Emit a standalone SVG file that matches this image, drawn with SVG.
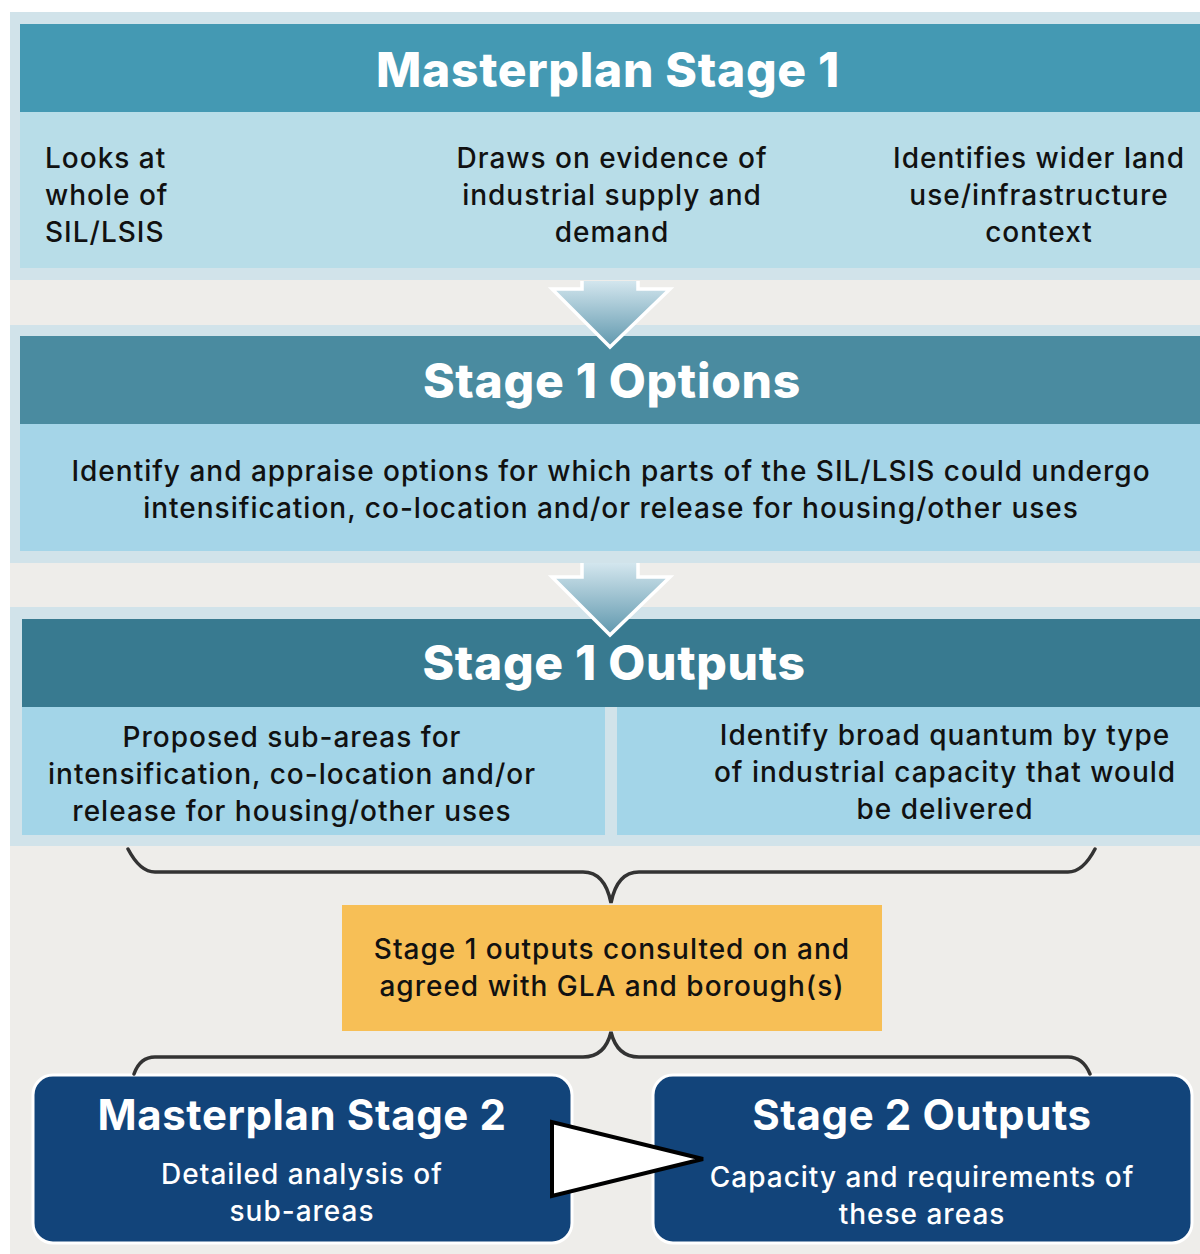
<svg xmlns="http://www.w3.org/2000/svg" width="1200" height="1254" viewBox="0 0 1200 1254">
<defs>
<linearGradient id="ag" x1="0" y1="0" x2="0" y2="1">
<stop offset="0" stop-color="#d3e6ee"/>
<stop offset="1" stop-color="#5f97ad"/>
</linearGradient>
<style>
.band{fill:#d1e3ea}
.gray{fill:#eeedea}
.h{font-family:Inter,"Liberation Sans",sans-serif;font-weight:800;fill:#fff;text-anchor:middle;letter-spacing:0.7px}
.h2{font-weight:700;letter-spacing:0.6px}
.t{font-family:Inter,"Liberation Sans",sans-serif;font-weight:500;fill:#111;font-size:28px;letter-spacing:1px}
.c{text-anchor:middle}
.w{fill:#fff}
.br{fill:none;stroke:#333;stroke-width:3.5;stroke-linecap:round}
.arr{fill:url(#ag)}
.arrs{fill:none;stroke:#fff;stroke-width:3.5;stroke-linejoin:miter}
</style>
</defs>
<rect width="1200" height="1254" fill="#fff"/>
<rect x="10" y="12" width="1190" height="1242" class="gray"/>

<g id="stage1">
<rect x="10" y="12" width="1190" height="268" class="band"/>
<rect x="20" y="24" width="1180" height="88" fill="#4499b3"/>
<rect x="20" y="112" width="1180" height="156" fill="#b8dde8"/>
<text x="608" y="87" class="h" font-size="48">Masterplan Stage 1</text>
<text class="t" x="45" y="168">Looks at</text>
<text class="t" x="45" y="205">whole of</text>
<text class="t" x="45" y="242">SIL/LSIS</text>
<text class="t c" x="612" y="168">Draws on evidence of</text>
<text class="t c" x="612" y="205">industrial supply and</text>
<text class="t c" x="612" y="242">demand</text>
<text class="t c" x="1039" y="168">Identifies wider land</text>
<text class="t c" x="1039" y="205">use/infrastructure</text>
<text class="t c" x="1039" y="242">context</text>
</g>

<g id="options">
<rect x="10" y="325" width="1190" height="238" class="band"/>
<rect x="20" y="336" width="1180" height="88" fill="#4a8ba0"/>
<rect x="20" y="424" width="1180" height="127" fill="#a5d5e8"/>
<text x="612" y="398" class="h" font-size="48">Stage 1 Options</text>
<text class="t c" x="611" y="481">Identify and appraise options for which parts of the SIL/LSIS could undergo</text>
<text class="t c" x="611" y="518">intensification, co-location and/or release for housing/other uses</text>
</g>

<g id="outputs">
<rect x="10" y="607" width="1190" height="239" class="band"/>
<rect x="22" y="619" width="1178" height="88" fill="#387a90"/>
<rect x="22" y="707" width="583" height="128" fill="#a3d5e8"/>
<rect x="617" y="707" width="583" height="128" fill="#a3d5e8"/>
<text x="614" y="680" class="h" font-size="48">Stage 1 Outputs</text>
<text class="t c" x="292" y="747">Proposed sub-areas for</text>
<text class="t c" x="292" y="784">intensification, co-location and/or</text>
<text class="t c" x="292" y="821">release for housing/other uses</text>
<text class="t c" x="945" y="745">Identify broad quantum by type</text>
<text class="t c" x="945" y="782">of industrial capacity that would</text>
<text class="t c" x="945" y="819">be delivered</text>
</g>

<g id="consult">
<rect x="342" y="905" width="540" height="126" fill="#f7bf56"/>
<text class="t c" x="612" y="959">Stage 1 outputs consulted on and</text>
<text class="t c" x="612" y="996">agreed with GLA and borough(s)</text>
</g>

<g id="stage2">
<rect x="33" y="1075" width="539" height="168" rx="20" fill="#12447a" stroke="#fff" stroke-width="3"/>
<text x="302" y="1130" class="h h2" font-size="42">Masterplan Stage 2</text>
<text class="t c w" x="302" y="1184">Detailed analysis of</text>
<text class="t c w" x="302" y="1221">sub-areas</text>
</g>

<g id="stage2out">
<rect x="653" y="1075" width="539" height="168" rx="20" fill="#12447a" stroke="#fff" stroke-width="3"/>
<text x="922" y="1130" class="h h2" font-size="42">Stage 2 Outputs</text>
<text class="t c w" x="922" y="1187">Capacity and requirements of</text>
<text class="t c w" x="922" y="1224">these areas</text>
</g>

<g id="connectors">
<polygon class="arr" points="582,281 638,281 638,289 670,289 610,347 552,289 582,289"/>
<polyline class="arrs" points="582,281 582,289 552,289 610,347 670,289 638,289 638,281"/>
<polygon class="arr" points="582,563 638,563 638,577 670,577 610,635 552,577 582,577"/>
<polyline class="arrs" points="582,563 582,577 552,577 610,635 670,577 638,577 638,563"/>
<path class="br" d="M128,849 Q140,872 155,872 L583,872 Q605,872 611,903 Q617,872 639,872 L1068,872 Q1083,872 1095,849"/>
<path class="br" d="M134,1074 Q140,1057 155,1057 L583,1057 Q605,1057 611,1032 Q617,1057 639,1057 L1068,1057 Q1083,1057 1090,1074"/>
<polygon points="552,1122 552,1196 703,1159" fill="#fff" stroke="#000" stroke-width="4" stroke-linejoin="miter"/>
</g>
</svg>
